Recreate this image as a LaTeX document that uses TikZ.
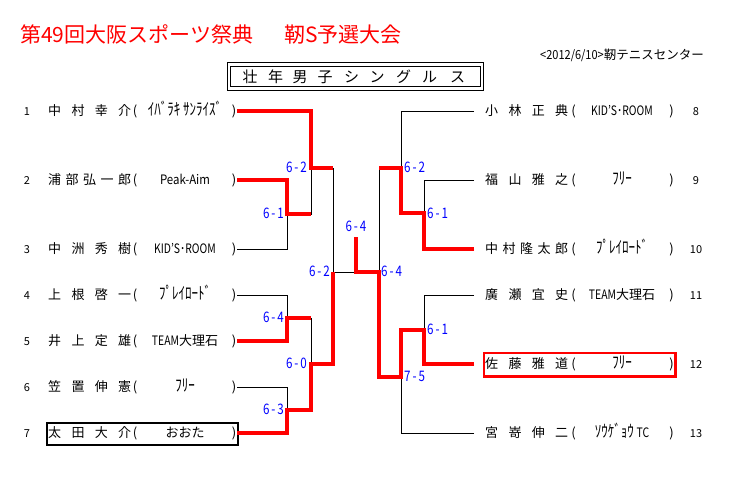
\documentclass[tikz,border=0pt]{standalone}
\usepackage{fontspec}
\usepackage{graphicx}
\setmainfont{Noto Sans CJK JP}
\newcommand\scoreT[2]{\scalebox{0.8}[1]{#1\,-\,#2}}
\newcommand\narw[1]{\scalebox{0.8}[1]{#1}}
\newcommand\hkana[1]{\scalebox{1}[1.3]{#1}}
\begin{document}
\begin{tikzpicture}[x=1pt,y=-1pt,
  blk/.style={draw=black, line width=1pt},
  win/.style={draw=red, line width=3.4pt},
  score/.style={text=blue, font=\fontsize{14.5pt}{14.5pt}\selectfont, inner sep=0pt, text height=12.7pt, text depth=1.8pt},
  txt/.style={font=\fontsize{13pt}{13pt}\selectfont, inner sep=0pt, text height=11.4pt, text depth=1.6pt},
  num/.style={font=\fontsize{11pt}{11pt}\selectfont, inner sep=0pt, text height=9.7pt, text depth=1.3pt},
  ttl/.style={text=red, font=\fontsize{21pt}{21pt}\selectfont, inner sep=0pt, text height=18.5pt, text depth=2.5pt, anchor=west},
  hch/.style={font=\fontsize{15pt}{15pt}\selectfont, inner sep=0pt, text height=13.2pt, text depth=1.8pt},
  hdr/.style={draw, double, double distance=2.4pt, line width=0.9pt, inner sep=0pt},
  lossbox/.style={draw=black, line width=2pt, inner sep=0pt},
  champbox/.style={draw=red, line width=2.7pt, inner sep=0pt}
]
\useasboundingbox (0,0) rectangle (745,488);

% titles
\node[ttl] (title1) at (20,34) {第49回大阪スポーツ祭典};
\node[ttl] (title2) at (284,34) {靭S予選大会};
\node[anchor=east, inner sep=0pt, font=\fontsize{12.5pt}{12.5pt}\selectfont] (sub) at (704,55) {\scalebox{0.88}[1]{<2012/6/10>}靭テニスセンター};

% header box
\node[hdr, minimum width=253pt, minimum height=24pt] (hdrbox) at (355.5,76.5) {};
\foreach \c/\x [count=\k] in {壮/250, 年/275.5, 男/300, 子/325, シ/351.5, ン/377, グ/403.5, ル/429.5, ス/457.5}
  \node[hch] (h\k) at (\x,76.5) {\c};

% left rows
\foreach \i/\y/\nm/\af in {
 1/111/{中\hfill 村\hfill 幸\hfill 介}/{\hkana{ｲﾊﾞﾗｷ ｻﾝﾗｲｽﾞ}},
 2/180/{浦\hfill 部\hfill 弘\hfill 一\hfill 郎}/{\scalebox{0.88}[1]{Peak-Aim}},
 3/249/{中\hfill 洲\hfill 秀\hfill 樹}/{\narw{KID'S･ROOM}},
 4/295/{上\hfill 根\hfill 啓\hfill 一}/{\hkana{ﾌﾟﾚｲﾛｰﾄﾞ}},
 5/341/{井\hfill 上\hfill 定\hfill 雄}/{\narw{TEAM}大理石},
 6/387/{笠\hfill 置\hfill 伸\hfill 憲}/{\hkana{ﾌﾘｰ}},
 7/433/{太\hfill 田\hfill 大\hfill 介}/{おおた}}
{
 \node[num] (num\i) at (27,\y) {\i};
 \node[txt, anchor=west] (name\i) at (48,\y) {\makebox[83pt]{\nm}};
 \node[txt] (op\i) at (135,\y) {(};
 \node[txt] (aff\i) at (185,\y) {\af};
 \node[txt] (cp\i) at (234,\y) {)};
 \coordinate (L\i) at (237,\y);
}

% right rows
\foreach \i/\y/\nm/\af in {
 8/111/{小\hfill 林\hfill 正\hfill 典}/{\narw{KID'S･ROOM}},
 9/180/{福\hfill 山\hfill 雅\hfill 之}/{\hkana{ﾌﾘｰ}},
 10/249/{中\hfill 村\hfill 隆\hfill 太\hfill 郎}/{\hkana{ﾌﾟﾚｲﾛｰﾄﾞ}},
 11/295/{廣\hfill 瀬\hfill 宜\hfill 史}/{\narw{TEAM}大理石},
 12/364/{佐\hfill 藤\hfill 雅\hfill 道}/{\hkana{ﾌﾘｰ}},
 13/433/{宮\hfill 嵜\hfill 伸\hfill 二}/{\hkana{ｿｳｹﾞｮｳ} \narw{TC}}}
{
 \node[txt, anchor=west] (name\i) at (485,\y) {\makebox[83pt]{\nm}};
 \node[txt] (op\i) at (573.5,\y) {(};
 \node[txt] (aff\i) at (622,\y) {\af};
 \node[txt] (cp\i) at (671.5,\y) {)};
 \node[num] (num\i) at (696,\y) {\i};
 \coordinate (R\i) at (474,\y);
}

% boxes
\node[lossbox, minimum width=191pt, minimum height=21.8pt] (box7) at (142.2,433.6) {};
\node[champbox, minimum width=191.3pt, minimum height=23.3pt] (box12) at (579.7,364.7) {};

% junctions
\coordinate (m23) at (287,214);
\coordinate (m123) at (311,168);
\coordinate (m45) at (287,318);
\coordinate (m67) at (287,410);
\coordinate (m4567) at (311,364);
\coordinate (sL) at (333,272);
\coordinate (fin) at (356,272);
\coordinate (champ) at (356,237);
\coordinate (m910) at (424,213);
\coordinate (m8910) at (401,168);
\coordinate (m1112) at (424,330);
\coordinate (m111213) at (401,377);
\coordinate (sR) at (379,272);

% black bracket
\draw[blk] (L1) -| (m123);
\draw[blk] (m23) -| (m123);
\draw[blk] (L2) -| (m23);
\draw[blk] (L3) -| (m23);
\draw[blk] (L4) -| (m45);
\draw[blk] (L5) -| (m45);
\draw[blk] (L6) -| (m67);
\draw[blk] (L7) -| (m67);
\draw[blk] (m45) -| (m4567);
\draw[blk] (m67) -| (m4567);
\draw[blk] (m123) -| (sL);
\draw[blk] (m4567) -| (sL);
\draw[blk] (sL) -- (fin);
\draw[blk] (R9) -| (m910);
\draw[blk] (R10) -| (m910);
\draw[blk] (R8) -| (m8910);
\draw[blk] (m910) -| (m8910);
\draw[blk] (R11) -| (m1112);
\draw[blk] (R12) -| (m1112);
\draw[blk] (m1112) -| (m111213);
\draw[blk] (R13) -| (m111213);
\draw[blk] (m8910) -| (sR);
\draw[blk] (m111213) -| (sR);

% winners
\draw[win] (L1) -| (m123) -- (m123 -| sL);
\draw[win] (L2) -| (m23) -- (m23 -| m123);
\draw[win] (L5) -| (m45) -- (m45 -| m4567);
\draw[win] (L7) -| (m67) -- (m67 -| m4567) -- (m4567) -- (m4567 -| sL) -- (sL);
\draw[win] (R10) -| (m910) -- (m910 -| m8910) -- (m8910) -- (m8910 -| sR);
\draw[win] (R12) -| (m1112) -- (m1112 -| m111213) -- (m111213) -- (m111213 -| sR) -- (sR) -- (fin) -- (champ);

% scores
\node[score, anchor=east] (s1) at (307,167) {\scoreT{6}{2}};
\node[score, anchor=east] (s2) at (284,213.5) {\scoreT{6}{1}};
\node[score, anchor=east] (s3) at (284,317.5) {\scoreT{6}{4}};
\node[score, anchor=east] (s4) at (307,363.5) {\scoreT{6}{0}};
\node[score, anchor=east] (s5) at (284,409.5) {\scoreT{6}{3}};
\node[score, anchor=east] (s6) at (330,271.5) {\scoreT{6}{2}};
\node[score] (s7) at (356,226.5) {\scoreT{6}{4}};
\node[score, anchor=west] (s8) at (404,167.5) {\scoreT{6}{2}};
\node[score, anchor=west] (s9) at (427,213) {\scoreT{6}{1}};
\node[score, anchor=west] (s10) at (427,329.5) {\scoreT{6}{1}};
\node[score, anchor=west] (s11) at (404,376.5) {\scoreT{7}{5}};
\node[score, anchor=west] (s12) at (381,271.5) {\scoreT{6}{4}};
\end{tikzpicture}
\end{document}
